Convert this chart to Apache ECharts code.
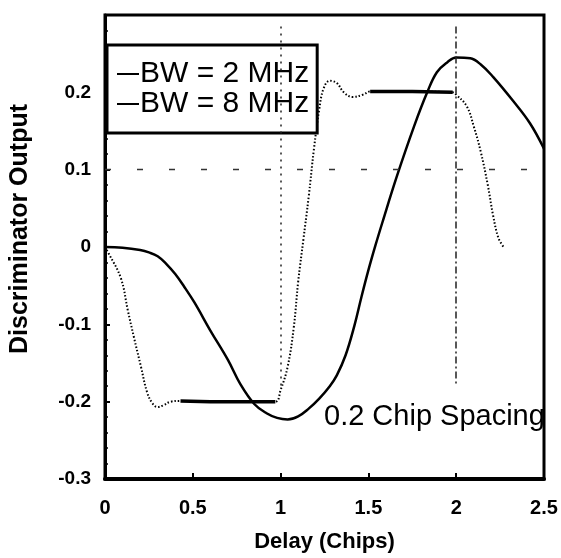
<!DOCTYPE html>
<html>
<head>
<meta charset="utf-8">
<script src="https://cdn.jsdelivr.net/npm/echarts@6/dist/echarts.min.js"></script>
<style>
html,body{margin:0;padding:0;background:#fff;}
#chart{width:561px;height:558px;}
</style>
</head>
<body>
<div id="chart"></div>
<script>
// ---- data ----
const xTicks = [0, 0.5, 1, 1.5, 2, 2.5];
const yTicks = [-0.3, -0.2, -0.1, 0, 0.1, 0.2];
const seriesNames = ['BW = 2 MHz', 'BW = 8 MHz'];
const annotationText = '0.2 Chip Spacing';
const xName = 'Delay (Chips)';
const yName = 'Discriminator Output';

const bw2X = [0, 0.1, 0.2, 0.25, 0.3, 0.35, 0.4, 0.45, 0.51, 0.60, 0.70, 0.77, 0.85, 0.92, 0.98, 1.04, 1.10, 1.16, 1.22, 1.28, 1.32, 1.37, 1.42, 1.46, 1.50, 1.54, 1.58, 1.66, 1.76, 1.835, 1.89, 1.95, 2.00, 2.08, 2.14, 2.21, 2.32, 2.42, 2.5];
const bw2Y = [0, -0.001, -0.004, -0.007, -0.012, -0.022, -0.035, -0.051, -0.072, -0.108, -0.146, -0.177, -0.203, -0.215, -0.221, -0.223, -0.219, -0.209, -0.196, -0.180, -0.166, -0.140, -0.102, -0.065, -0.030, 0.002, 0.032, 0.090, 0.156, 0.2, 0.226, 0.239, 0.245, 0.244, 0.236, 0.22, 0.19, 0.16, 0.127];

const bw8X = [0, 0.02, 0.09, 0.13, 0.165, 0.205, 0.24, 0.27, 0.30, 0.33, 0.375, 0.43, 0.6, 0.8, 0.97, 1.0, 1.04, 1.075, 1.10, 1.13, 1.16, 1.19, 1.22, 1.245, 1.28, 1.32, 1.36, 1.41, 1.47, 1.51, 1.75, 1.98, 2.0, 2.06, 2.10, 2.14, 2.18, 2.21, 2.24, 2.27];
const bw8Y = [0, -0.008, -0.04, -0.082, -0.117, -0.155, -0.188, -0.202, -0.207, -0.205, -0.2, -0.199, -0.2, -0.2, -0.2, -0.185, -0.155, -0.104, -0.045, 0.01, 0.065, 0.127, 0.178, 0.205, 0.215, 0.212, 0.2, 0.194, 0.197, 0.201, 0.201, 0.2, 0.197, 0.182, 0.156, 0.123, 0.08, 0.041, 0.012, 0.0];

// flat parts of the BW = 8 MHz curve (x ranges), drawn heavier as in the scan
const bw8FlatRanges = [[0.43, 0.97], [1.51, 1.98]];
// faint reference grid lines seen in the scan
const refLinesX = [1, 2];
const refLinesY = [0.1];

// ---- build ----
const pairs = (xs, ys) => xs.map((x, i) => [x, ys[i]]);
const bw2 = pairs(bw2X, bw2Y);
const bw8 = pairs(bw8X, bw8Y);
const flatData = [];
bw8FlatRanges.forEach((r, k) => {
  if (k > 0) flatData.push('-');
  bw8.forEach(p => { if (p[0] >= r[0] && p[0] <= r[1]) flatData.push(p); });
});

const font = 'Liberation Sans, Arial, sans-serif';
const chart = echarts.init(document.getElementById('chart'), null, {renderer: 'canvas'});

const markData = [];
refLinesX.forEach((v, i) => markData.push([
  {coord: [v, 0.285], lineStyle: {type: i === 0 ? [2, 5] : [7, 3, 2, 3], width: 1.5, color: '#222'}},
  {coord: [v, -0.18]}
]));
refLinesY.forEach(v => markData.push([
  {coord: [0, v], lineStyle: {type: [6, 26], width: 1.3, color: '#333'}},
  {coord: [2.5, v]}
]));

chart.setOption({
  animation: false,
  backgroundColor: '#fff',
  grid: {left: 104, right: 17, top: 15, bottom: 76, show: true, borderColor: '#000', borderWidth: 3, backgroundColor: 'transparent'},
  legend: {
    orient: 'vertical',
    left: 107, top: 45,
    data: seriesNames,
    icon: 'rect',
    itemWidth: 22, itemHeight: 2,
    itemGap: 0,
    padding: [14, 8, 14, 10],
    borderColor: '#000', borderWidth: 3,
    backgroundColor: '#fff',
    selectedMode: false,
    textStyle: {fontFamily: font, fontSize: 30, lineHeight: 29, color: '#000', padding: [0, 0, 0, -4]}
  },
  xAxis: {
    type: 'value', min: 0, max: 2.5, interval: 0.5,
    name: xName, nameLocation: 'middle', nameGap: 52,
    nameTextStyle: {fontFamily: font, fontSize: 22, fontWeight: 'bold', color: '#000'},
    axisLine: {onZero: false, lineStyle: {color: '#000', width: 4}},
    axisTick: {inside: true, length: 6, lineStyle: {width: 2, color: '#000'}},
    axisLabel: {fontFamily: font, fontSize: 20, fontWeight: 'bold', color: '#000', margin: 19,
      formatter: v => xTicks.includes(+v.toFixed(2)) ? String(+v.toFixed(1)) : ''},
    splitLine: {show: false}
  },
  yAxis: {
    type: 'value', min: -0.3, max: 0.3, interval: 0.1,
    name: yName, nameLocation: 'middle', nameGap: 72, nameRotate: 90,
    nameTextStyle: {fontFamily: font, fontSize: 25, fontWeight: 'bold', color: '#000', padding: [0, 0, 0, 36]},
    axisLine: {onZero: false, lineStyle: {color: '#000', width: 3}},
    axisTick: {inside: true, length: 5, lineStyle: {width: 2, color: '#000'}},
    minorTick: {show: true, splitNumber: 5, length: 3, lineStyle: {color: '#000', width: 1.5}},
    axisLabel: {fontFamily: font, fontSize: 19, fontWeight: 'bold', color: '#000', margin: 14,
      formatter: v => { const r = +v.toFixed(2); return yTicks.includes(r) ? (r === 0 ? '0' : r.toFixed(1)) : ''; }},
    splitLine: {show: false}
  },
  series: [
    {
      name: seriesNames[0], type: 'line', data: bw2, smooth: 0.4, showSymbol: false,
      lineStyle: {color: '#000', width: 2.5}, itemStyle: {color: '#000'}, z: 3,
      markLine: {silent: true, symbol: 'none', label: {show: false}, data: markData, animation: false}
    },
    {
      name: seriesNames[1], type: 'line', data: bw8, smooth: 0.4, showSymbol: false,
      lineStyle: {color: '#000', width: 2, type: [1.5, 2]}, itemStyle: {color: '#000'}, z: 3
    },
    {
      name: 'bw8-flat', type: 'line', data: flatData, smooth: false, showSymbol: false,
      lineStyle: {color: '#000', width: 3.5}, connectNulls: false, z: 3, legendHoverLink: false
    }
  ],
  graphic: [{
    type: 'text', x: 324, y: 417, z: 10,
    style: {text: annotationText, font: '29px ' + font, fill: '#000', verticalAlign: 'middle', align: 'left'}
  }]
});
</script>
</body>
</html>
